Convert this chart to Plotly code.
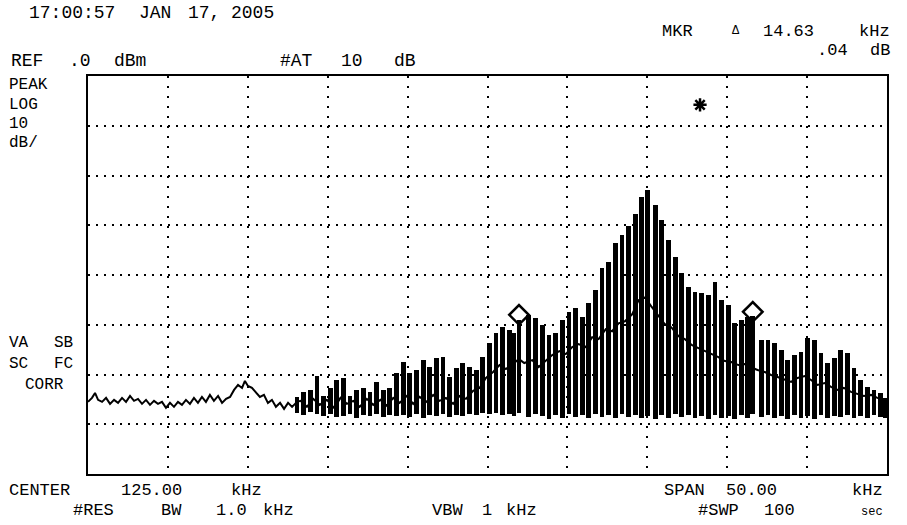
import plotly.graph_objects as go

# ---------------- data (kHz, dBm) ----------------
noise_freq = [100.00, 100.25, 100.44, 100.63, 100.88, 101.13, 101.38, 101.63, 101.88, 102.13,
              102.38, 102.63, 102.88, 103.13, 103.38, 103.63, 103.88, 104.13, 104.38, 104.63,
              104.88, 105.13, 105.38, 105.63, 105.88, 106.13, 106.38, 106.63, 106.88, 107.13,
              107.38, 107.63, 107.88, 108.14, 108.39, 108.64, 108.89, 109.14, 109.39, 109.64,
              109.82, 110.01, 110.26, 110.51, 110.76, 111.01, 111.26, 111.51, 111.76, 112.02,
              112.27, 112.52, 112.77, 113.08]
noise_level = [-65.5, -64.7, -63.7, -65.1, -65.5, -64.7, -65.9, -65.1, -65.7, -64.7,
               -65.5, -64.3, -65.3, -64.9, -65.9, -65.1, -66.1, -65.3, -65.9, -65.5,
               -66.7, -65.7, -66.5, -65.5, -66.1, -65.1, -65.9, -64.7, -65.7, -64.5,
               -65.5, -64.1, -65.3, -64.3, -65.7, -64.9, -64.5, -63.1, -62.1, -62.7,
               -61.3, -62.3, -62.7, -63.5, -64.5, -64.1, -65.7, -65.1, -66.5, -65.7,
               -66.9, -65.7, -66.5, -65.5]

spike_freq = [113.08, 113.50, 113.91, 114.33, 114.74, 115.16, 115.57, 115.99, 116.40, 116.82,
              117.23, 117.65, 118.06, 118.48, 118.89, 119.31, 119.72, 120.14, 120.55, 120.97,
              121.38, 121.80, 122.21, 122.63, 123.04, 123.46, 123.87, 124.29, 124.70, 125.12,
              125.53, 125.95, 126.36, 126.66, 126.97, 127.55, 128.02, 128.44, 128.85, 129.27,
              129.68, 130.10, 130.51, 130.93, 131.34, 131.76, 132.17, 132.59, 133.00, 133.42,
              133.83, 134.25, 134.66, 135.03, 135.49, 135.91, 136.32, 136.74, 137.15, 137.57,
              137.98, 138.40, 138.81, 139.23, 139.64, 140.06, 140.47, 140.89, 141.25, 141.60,
              142.13, 142.55, 142.96, 143.38, 143.79, 144.21, 144.62, 145.04, 145.45, 145.87,
              146.28, 146.70, 147.11, 147.53, 147.94, 148.36, 148.77, 149.19, 149.60, 149.90]
spike_top = [-64.5, -63.5, -63.1, -60.3, -64.3, -62.7, -61.1, -60.7, -64.3, -63.1,
             -62.7, -63.5, -61.5, -63.1, -62.7, -59.7, -57.5, -59.7, -59.1, -57.1,
             -58.5, -56.7, -56.5, -60.5, -58.7, -57.7, -58.5, -59.1, -56.5, -53.7,
             -51.7, -50.5, -51.1, -51.7, -49.0, -48.0, -48.6, -50.0, -52.1, -51.7,
             -49.0, -47.4, -46.6, -48.4, -45.6, -43.0, -38.6, -37.4, -33.6, -32.0,
             -30.2, -27.7, -24.3, -22.9, -25.9, -28.9, -33.0, -36.4, -39.6, -42.4,
             -43.4, -43.6, -44.0, -41.4, -45.0, -46.0, -49.6, -49.0, -48.4, -48.2,
             -53.1, -53.1, -53.7, -55.1, -57.1, -56.1, -55.5, -52.7, -53.1, -55.7,
             -57.7, -56.7, -55.1, -55.7, -58.7, -61.1, -62.5, -63.1, -63.7, -64.7]
spike_bottom = [-67.7, -68.1, -67.5, -67.9, -68.3, -67.9, -68.5, -68.3, -67.9, -68.7,
                -68.1, -68.3, -67.9, -68.5, -68.1, -68.3, -68.1, -68.5, -67.9, -68.7,
                -68.1, -68.3, -67.9, -68.5, -68.1, -68.3, -67.9, -68.1, -67.7, -67.9,
                -67.7, -68.1, -67.9, -68.3, -67.7, -68.5, -67.9, -68.3, -68.9, -68.1,
                -68.7, -67.9, -68.5, -68.1, -68.7, -67.9, -68.5, -68.1, -68.7, -67.9,
                -68.5, -68.1, -68.7, -68.3, -68.9, -68.1, -68.7, -67.9, -68.5, -68.1,
                -68.7, -68.3, -68.9, -68.1, -68.7, -68.3, -68.9, -68.1, -68.7, -67.9,
                -68.5, -68.1, -68.7, -68.3, -68.9, -68.1, -68.7, -68.3, -68.9, -68.1,
                -68.7, -68.3, -68.5, -68.1, -68.7, -68.3, -68.7, -68.1, -68.5, -68.7]

# trace between the comb lines (inner envelope)
mid_freq = [113.08, 113.30, 113.70, 114.10, 114.50, 114.95, 115.40, 115.80, 116.20, 116.60,
            117.00, 117.45, 117.85, 118.30, 118.70, 119.10, 119.50, 119.95, 120.35, 120.75,
            121.20, 121.60, 122.00, 122.40, 122.85, 123.25, 123.65, 124.10, 124.50, 124.90,
            125.35, 125.75, 126.15, 126.55, 126.97, 127.30, 127.80, 128.20, 128.65, 129.05,
            129.50, 129.90, 130.30, 130.70, 131.15, 131.55, 131.95, 132.40, 132.80, 133.20,
            133.60, 134.05, 134.45, 134.85, 135.25, 135.70, 136.10, 136.50, 136.95, 137.35,
            137.80, 138.20, 138.60, 139.00, 139.45, 139.85, 140.25, 140.70, 141.10, 141.45,
            141.90, 142.35, 142.75, 143.15, 143.60, 144.00, 144.40, 144.85, 145.25, 145.65,
            146.10, 146.50, 146.90, 147.30, 147.75, 148.15, 148.55, 149.00, 149.40, 149.80,
            150.00]
mid_level = [-65.5, -65.3, -66.5, -64.9, -66.1, -65.1, -66.7, -64.7, -65.9, -65.3,
             -66.5, -64.9, -66.1, -65.1, -66.3, -64.7, -65.7, -64.3, -65.9, -64.5,
             -65.5, -64.1, -65.3, -64.7, -65.9, -64.3, -64.9, -63.3, -62.7, -60.7,
             -59.5, -58.1, -58.9, -57.9, -56.9, -57.7, -57.1, -58.5, -57.3, -56.1,
             -55.3, -55.9, -54.5, -53.9, -54.5, -52.5, -52.9, -50.9, -51.3, -49.7,
             -49.3, -47.9, -45.1, -44.5, -46.3, -48.1, -49.9, -50.5, -52.3, -52.9,
             -54.1, -54.7, -55.3, -55.9, -56.5, -57.3, -57.5, -58.1, -57.9, -58.5,
             -59.1, -59.5, -60.1, -60.5, -61.1, -61.5, -60.7, -60.3, -61.1, -62.1,
             -61.7, -62.5, -63.1, -62.7, -63.5, -63.9, -64.3, -64.1, -64.7, -65.1,
             -64.9]

marker_freq = [126.97, 141.60]
marker_level = [-48.0, -47.4]
ref_marker_freq = [138.30]
ref_marker_level = [-5.8]

FONT = "Liberation Mono"

fig = go.Figure()
fig.add_trace(go.Bar(
    x=spike_freq,
    y=[t - b for t, b in zip(spike_top, spike_bottom)],
    base=spike_bottom, width=0.3,
    marker=dict(color="black", line=dict(width=0))))
fig.add_trace(go.Scatter(x=noise_freq, y=noise_level, mode="lines",
                         line=dict(color="black", width=2)))
fig.add_trace(go.Scatter(x=mid_freq, y=mid_level, mode="lines",
                         line=dict(color="black", width=2)))
fig.add_trace(go.Scatter(x=marker_freq, y=marker_level, mode="markers",
                         marker=dict(symbol="diamond-open", size=15, color="black",
                                     line=dict(width=2.5, color="black"))))
fig.add_trace(go.Scatter(x=ref_marker_freq, y=ref_marker_level, mode="markers",
                         marker=dict(symbol="asterisk-open", size=11, color="black",
                                     line=dict(width=2.5, color="black"))))

# page geometry (body margin removed in the page, see post_script)
L, R, T, B = 88, 887, 76, 474          # plot box in page pixels
W, H = 907, 525


def txt(s, px, py, size=17, anchor="left"):
    fig.add_annotation(text=s, x=(px - L) / (R - L), y=(B - py) / (B - T),
                       xref="paper", yref="paper", xanchor=anchor, yanchor="middle",
                       showarrow=False, borderpad=0,
                       font=dict(family=FONT, size=size, color="black"))


# top lines
txt("17:00:57", 28, 13, 18)
txt("JAN", 138, 13, 18)
txt("17,", 187, 13, 18)
txt("2005", 230, 13, 18)
txt("REF", 10, 61, 18)
txt(".0", 68, 61, 18)
txt("dBm", 113, 61, 18)
txt("#AT", 279, 61, 18)
txt("10", 340, 61, 18)
txt("dB", 393, 61, 18)
txt("MKR", 661, 31)
txt("\u0394", 731, 31, 12)
txt("14.63", 762, 31)
txt("kHz", 891, 31, 17, "right")
txt(".04", 816, 50)
txt("dB", 891, 50, 17, "right")
# left labels
txt("PEAK", 8, 85, 16)
txt("LOG", 8, 105, 16)
txt("10", 8, 124, 16)
txt("dB/", 8, 143, 16)
txt("VA", 8, 343, 16)
txt("SB", 53, 343, 16)
txt("SC", 8, 364, 16)
txt("FC", 53, 364, 16)
txt("CORR", 24, 385, 16)
# bottom lines
txt("CENTER", 8, 490)
txt("125.00", 120, 490)
txt("kHz", 230, 490)
txt("#RES", 72, 510)
txt("BW", 160, 510)
txt("1.0", 215, 510)
txt("kHz", 262, 510)
txt("VBW", 431, 510)
txt("1", 481, 510)
txt("kHz", 505, 510)
txt("SPAN", 663, 490)
txt("50.00", 725, 490)
txt("kHz", 884, 490, 17, "right")
txt("#SWP", 697, 510)
txt("100", 763, 510)
txt("sec", 884, 512, 12, "right")

axis_common = dict(showticklabels=False, ticks="", zeroline=False,
                   showline=True, linecolor="black", linewidth=2, mirror=True,
                   showgrid=True, gridcolor="black", gridwidth=1.5, fixedrange=True)
fig.update_xaxes(range=[100, 150], tick0=100, dtick=5, griddash="2px,8px", **axis_common)
fig.update_yaxes(range=[-80, 0], tick0=-80, dtick=10, griddash="2px,6px", **axis_common)

fig.update_layout(width=W, height=H,
                  margin=dict(l=L, r=W - R, t=T, b=H - B),
                  paper_bgcolor="white", plot_bgcolor="white", showlegend=False,
                  bargap=0)

fig.write_html("out.html", config={"displayModeBar": False},
               post_script="document.body.style.margin='0';"
                           "document.documentElement.style.overflow='hidden';")
